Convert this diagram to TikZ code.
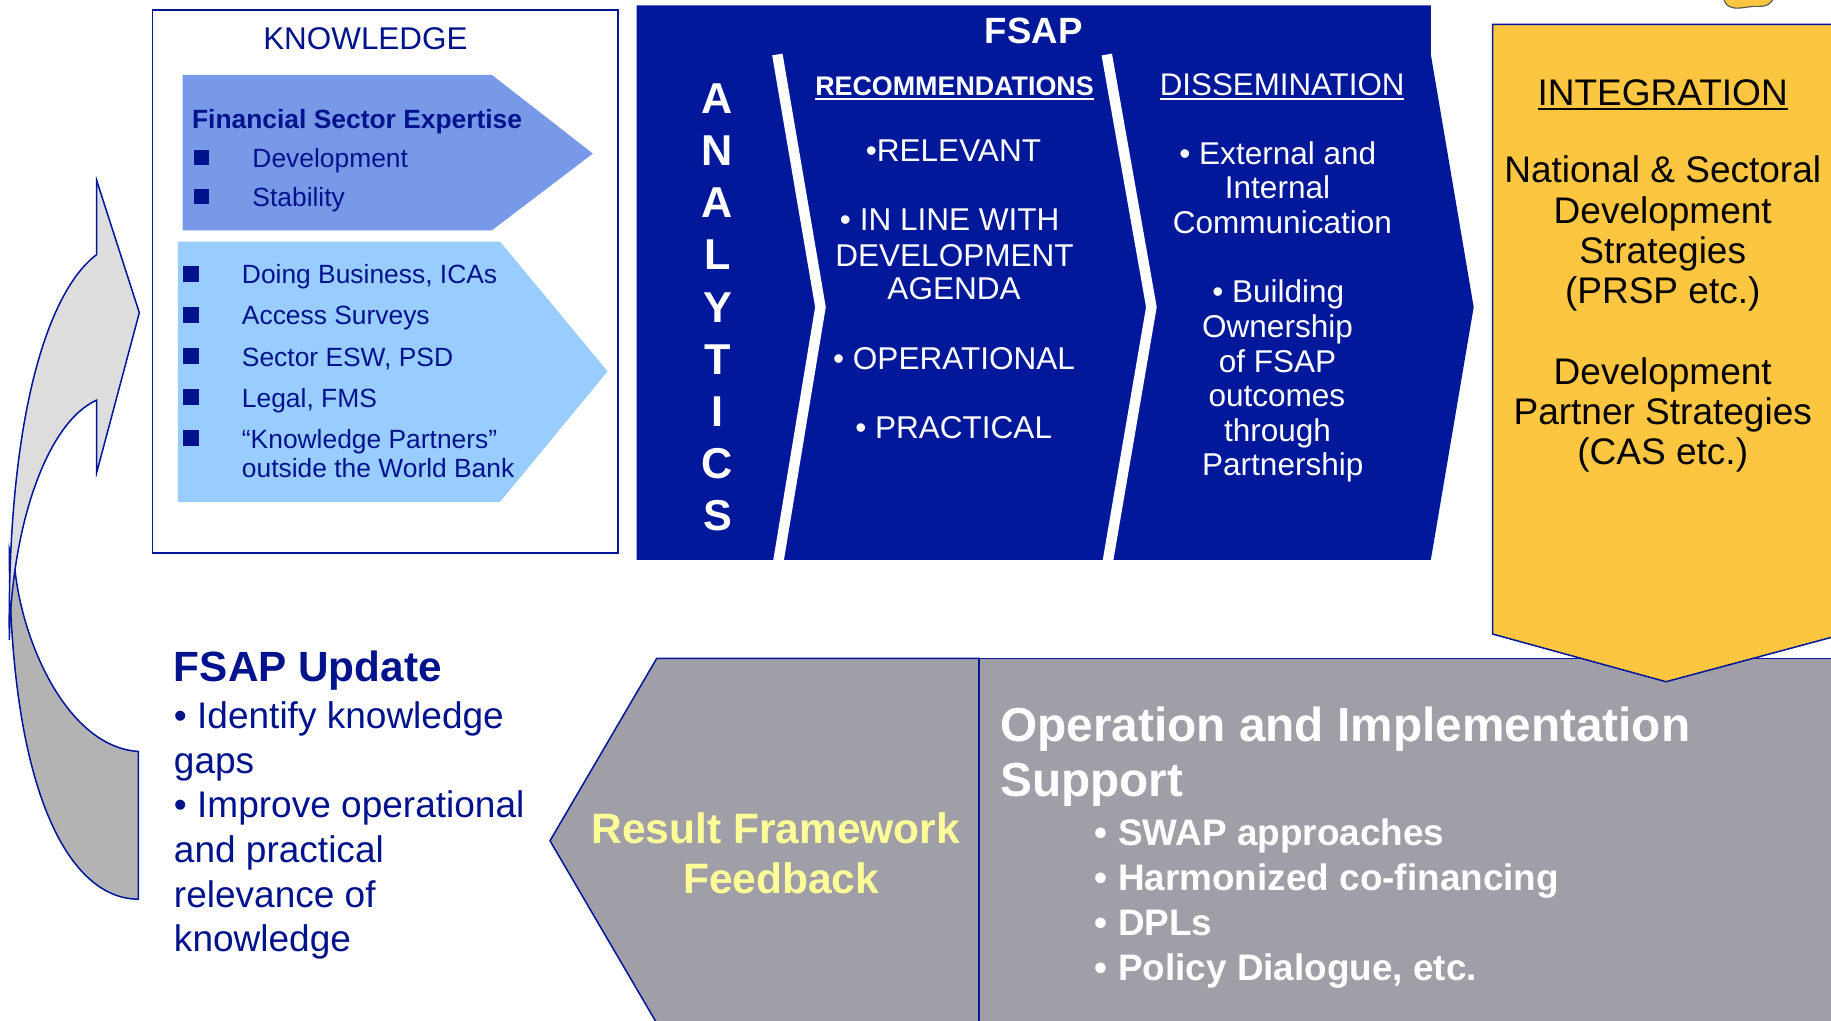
\documentclass[tikz,border=0pt]{standalone}
\usepackage{fontspec}
\setmainfont{Liberation Sans}
\definecolor{navy}{RGB}{0,18,140}
\definecolor{edgeblue}{RGB}{0,22,155}
\definecolor{fsapblue}{RGB}{0,24,153}
\definecolor{midblue}{RGB}{120,153,232}
\definecolor{paleblue}{RGB}{153,204,255}
\definecolor{gold}{RGB}{252,198,64}
\definecolor{slate}{RGB}{160,159,168}
\definecolor{lemon}{RGB}{255,255,153}
\definecolor{arrowlight}{RGB}{221,221,221}
\definecolor{arrowdark}{RGB}{179,179,179}
\newcommand\fsz[1]{\fontsize{#1}{#1}\selectfont}
% underline with a rule of fixed thickness
\newcommand\ulbox[1]{\setbox0=\hbox{#1}\rlap{\rule[-4pt]{\wd0}{2pt}}\box0}
\begin{document}
\begin{tikzpicture}[x=1pt,y=-1pt,line join=miter,
  outl/.style={draw=edgeblue,line width=1.3pt},
  lbl/.style={inner sep=0pt,anchor=base},
  lblw/.style={inner sep=0pt,anchor=base west},
  knowtxt/.style={lblw,text=navy,font=\fsz{22.6}},
  fsaptxt/.style={lbl,text=white,font=\fsz{27}},
  integtxt/.style={lbl,text=black,font=\fsz{31.7}},
  updtxt/.style={lblw,text=navy,font=\fsz{31.7}},
  optxt/.style={lblw,text=white,font=\fsz{31.6}\bfseries}]
\useasboundingbox (0,0) rectangle (1568,874);
\clip (0,0) rectangle (1568,874);

% ---- curved feedback arrow (back band, then front band with head)
\path[fill=arrowdark,outl] (8,470) .. controls (8,680) and (60,770) .. (118.5,770)
  -- (118.5,643.5) .. controls (60,640) and (20,555) .. (12.8,487.8) -- cycle;
\path[fill=arrowlight,outl] (82.8,154.5) -- (119.3,267.8) -- (82.8,404.7) -- (82.8,342.6)
  .. controls (40,362) and (10,450) .. (8,548)
  .. controls (6,360) and (40,250) .. (82.8,218) -- cycle;

% ---- knowledge panel
\draw[draw=edgeblue,line width=1.5pt] (130.5,8.6) rectangle (529.5,473.4);
\node[lbl,text=navy,font=\fsz{26.9}] (know) at (312.9,42.8) {KNOWLEDGE};
\fill[midblue] (156.3,64.2) -- (421.3,64.2) -- (507.7,131.5) -- (421.3,197.2) -- (156.3,197.2) -- cycle;
\fill[paleblue] (152.4,207) -- (428.3,207) -- (520.3,318) -- (428.3,429.7) -- (152.4,429.7) -- cycle;
\node[knowtxt,font=\fsz{22.6}\bfseries] (fse) at (164.3,110.1) {Financial Sector Expertise};
\foreach \t/\y [count=\i] in {{Development}/143.1,{Stability}/176.8}{
  \fill[navy] (166,\y-1.8) rectangle (179,\y-14.8);
  \node[knowtxt] (fx\i) at (216,\y) {\t};
}
\foreach \t/\y [count=\i] in {{Doing Business, ICAs}/243.1,{Access Surveys}/278.3,{Sector ESW, PSD}/313.5,{Legal, FMS}/348.6,{“Knowledge Partners”}/383.8}{
  \fill[navy] (156.3,\y-1.6) rectangle (170,\y-15.3);
  \node[knowtxt] (kl\i) at (207,\y) {\t};
}
\node[knowtxt] (kl6) at (207,409.2) {outside the World Bank};

% ---- FSAP panel
\fill[fsapblue] (545.1,4.7) -- (1225.3,4.7) -- (1225.3,46.7) -- (1262,263) -- (1225.3,479.4) -- (545.1,479.4) -- cycle;
\draw[white,line width=9pt] (665.7,46.7) -- (702.6,263) -- (665.7,486);
\draw[white,line width=9pt] (947.8,46.7) -- (986,263) -- (947.8,486);
\node[lbl,text=white,font=\fsz{31.3}\bfseries] (fsap) at (885.2,37.4) {FSAP};
\foreach \l [count=\i, evaluate=\i as \yy using 97.1+(\i-1)*44.67] in {A,N,A,L,Y,T,I,C,S}
  \node[lbl,text=white,font=\fsz{37}\bfseries] (an\i) at (614.5,\yy) {\l};
\node[lbl,text=white,font=\fsz{23}\bfseries] (rec) at (817.4,81.6) {\ulbox{RECOMMENDATIONS}};
\node[lbl,text=white,font=\fsz{26.8}] (dis) at (1098,81.6) {\ulbox{DISSEMINATION}};
\foreach \t/\x/\y [count=\i] in {{•RELEVANT}/816.5/138.5,{• IN LINE WITH}/813.3/197.7,{DEVELOPMENT}/817.4/227.9,{AGENDA}/817/256.8,{• OPERATIONAL}/817/316.6,{• PRACTICAL}/816.7/375.7}
  \node[fsaptxt] (rc\i) at (\x,\y) {\t};
\foreach \t/\x/\y [count=\i] in {{• External and}/1094.3/140.7,{Internal}/1094/170.4,{Communication}/1098.2/200.1,{• Building}/1094.7/259.4,{Ownership}/1094/289,{of FSAP}/1094/318.6,{outcomes}/1093.5/348.2,{through}/1094/377.8,{Partnership}/1098.5/407.4}
  \node[fsaptxt] (ds\i) at (\x,\y) {\t};

% ---- operation panel (drawn before the integration arrow, which overlaps it)
\path[fill=slate,outl] (562.4,563.8) -- (471,720) -- (562.4,876.2) -- (838.4,876.2) -- (838.4,563.8) -- cycle;
\path[fill=slate,outl] (838.4,563.8) rectangle (1600,900);
\node[lbl,text=lemon,font=\fsz{36.4}\bfseries] (rf1) at (664.4,722.2) {Result Framework};
\node[lbl,text=lemon,font=\fsz{36.4}\bfseries] (rf2) at (669,765) {Feedback};
\node[lblw,text=white,font=\fsz{40.9}\bfseries] (op1) at (856.4,635.2) {Operation and Implementation};
\node[lblw,text=white,font=\fsz{40.9}\bfseries] (op2) at (856.4,682.3) {Support};
\foreach \t/\y [count=\i] in {{• SWAP approaches}/723.7,{• Harmonized co-financing}/762.2,{• DPLs}/800.7,{• Policy Dialogue, etc.}/839.3}
  \node[optxt] (ob\i) at (937.5,\y) {\t};

% ---- integration arrow
\path[fill=gold,outl] (1278.3,20.8) -- (1590,20.8) -- (1590,540) -- (1426.7,583.8) -- (1278.3,543) -- cycle;
\filldraw[fill=gold,draw=black!65,line width=1pt] (1476,-3) .. controls (1476,3) and (1480,7) .. (1488,7)
  .. controls (1496,6.5) and (1500,5) .. (1506,5.5) .. controls (1512,6) and (1518,3) .. (1519,-3) -- cycle;
\node[integtxt] (integ) at (1423.8,90.5) {\ulbox{INTEGRATION}};
\foreach \t/\y [count=\i] in {{National \& Sectoral}/156.7,{Development}/191.2,{Strategies}/225.7,{(PRSP etc.)}/260.2,{Development}/329.2,{Partner Strategies}/363.7,{(CAS etc.)}/398.2}
  \node[integtxt] (ig\i) at (1423.9,\y) {\t};

% ---- FSAP update text
\node[lblw,text=navy,font=\fsz{36.2}\bfseries] (upd) at (148.8,583.8) {FSAP Update};
\foreach \t/\y [count=\i] in {{• Identify knowledge}/623.7,{gaps}/662,{• Improve operational}/700.3,{and practical}/738.6,{relevance of}/776.9,{knowledge}/815.2}
  \node[updtxt] (up\i) at (148.8,\y) {\t};
\end{tikzpicture}
\end{document}
